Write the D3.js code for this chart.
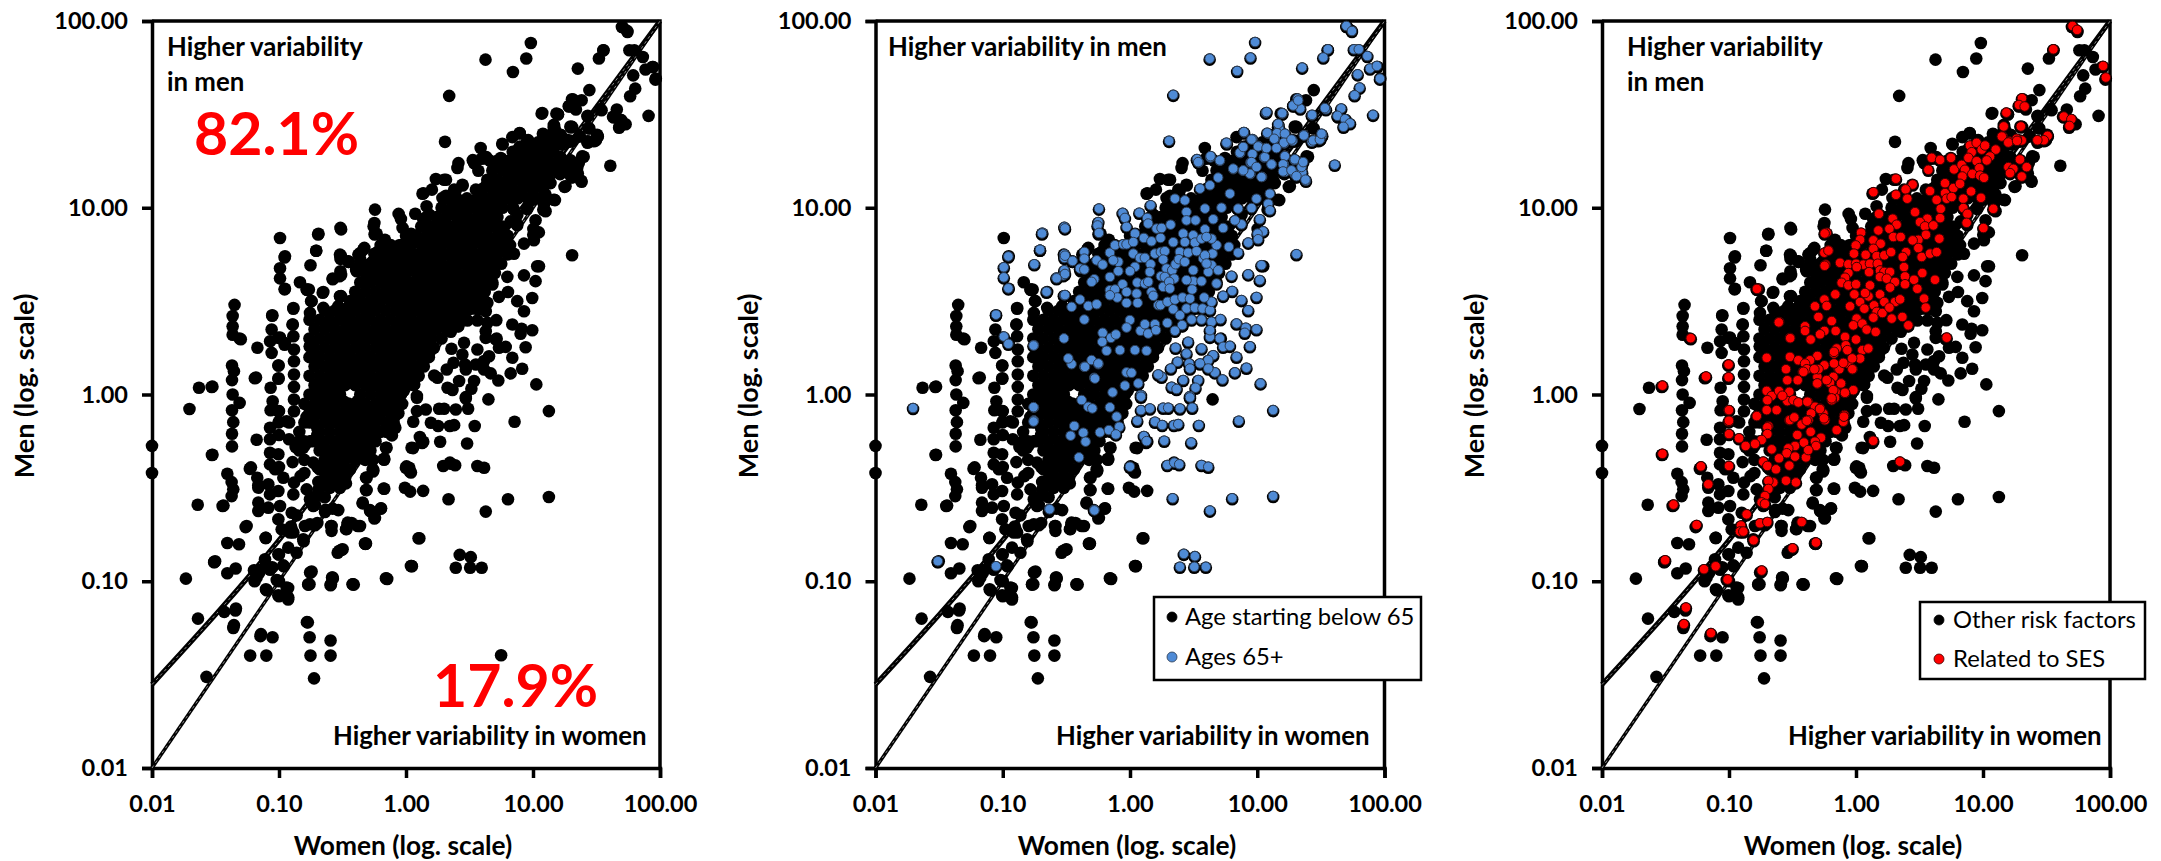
<!DOCTYPE html>
<html>
<head>
<meta charset="utf-8">
<script src="https://cdn.jsdelivr.net/npm/d3@7"></script>
<style>
body { margin: 0; background: #fff; }
text { font-family: Lato, "Open Sans", sans-serif; }
</style>
</head>
<body>
<script>

// isolated black points (the ones that stay black in the middle panel)
const scatterPoints = [
[-2,-.275],[-2,-.42],[-1.35,.48],[-1.365,.42],[-1.365,.365],[-1.365,.32],[-1.31,.3],[-1.17,.25],[-1.37,.155],[-1.355,.125],[-1.37,.077],
[-1.63,.036],[-1.53,.04],[-1.19,.087],[-1.365,0],[-1.31,-.045],[-1.37,-.084],[-1.36,-.148],[-1.37,-.21],[-1.37,-.278],[-1.176,-.242],
[-1.528,-.324],[-1.23,-.398],[-1.407,-.424],[-1.373,-.469],[-1.36,-.508],[-1.373,-.544],[-1.64,-.59],[-1.444,-.597],[-1.263,-.71],
[-1.407,-.795],[-1.315,-.802],[-1.51,-.897],[-1.407,-.957],[-1.341,-.932],[-1.733,-.986],[-1.053,.424],[-1.058,.348],[-1.005,.303],
[-1.07,.285],[-1.058,.223],[-.887,.463],[-.893,.374],[-.887,.312],[-.953,.276],[-.882,.241],[-.882,.178],[-1.005,.155],[-.882,.107],
[-.882,.041],[-.882,-.027],[-.882,-.09],[-1.005,.084],[-1.066,.036],[-1.05,-.036],[-1.066,-.084],[-1.005,-.09],[-1.071,-.178],[-.94,-.143],
[-1.071,-.24],[-1.071,-.312],[-1.071,-.374],[-1.005,-.32],[-1.03,-.4],[-.966,-.446],[-.893,-.362],[-.861,-.259],[-.756,-.25],[-.81,-.285],
[-1.171,-.446],[-1.163,-.499],[-1.084,-.481],[-1.005,-.517],[-1.071,-.535],[-1.163,-.579],[-1.163,-.624],[-1.084,-.606],[-.992,-.597],
[-.882,-.472],[-.83,-.437],[-.887,-.535],[-.782,-.508],[-.756,-.561],[-.73,-.597],[-.9,-.633],[-1.005,-.668],[-.979,-.722],[-.9,-.722],
[-.796,-.704],[-.717,-.7],[-1.105,-.768],[-1.005,-.856],[-1.11,-.882],[-.966,-.915],[-.927,-.82],[-.809,-.775],[-.861,-.847],[-1.071,-.927],
[-1.176,-.98],[-1.018,-.993],[-1.103,-1.043],[-.94,-1.034],[-1.005,-1.075],[-.927,-1.087],[-.751,-.954],[-.769,-1.016],[-.578,-.98],
[-.591,-1.016],[-.42,-1.016],[-.153,-.986],[.044,-.918],[.105,-.77],[-.318,-.799],[-.507,-.832],[-.538,-.847],[-.586,-.704],[-.586,-.73],
[-.46,-.695],[-.468,-.72],[-.362,-.704],[-.578,-.611],[-.533,-.619],[-.638,-.629],[-.341,-.583],[-.284,-.619],[-.244,-.66],[-.197,-.611],
[-.171,-.505],[-.31,-.512],[-.31,-.446],[-.257,-.405],[-.171,-.344],[-.153,-.285],[-1.638,-1.2],[-1.431,-1.164],[-1.343,-1.157],[-1.36,-1.25],
[-1.146,-1.294],[-1.051,-1.3],[-1.227,-1.398],[-1.1,-1.398],[-1.571,-1.512],[-.78,-1.219],[-.759,-1.3],[-.594,-1.317],[-.752,-1.398],
[-.594,-1.398],[-.724,-1.52],[.749,-1.396],[-.77,-1.018],[-.576,-.986],[-.594,-1.021],[-.411,-1.018],[-.148,-.988],[.046,-.92],[-.32,-.8],
[-1,-1],[-.928,-1.036],[-1,-1.08],[-.928,-1.098],[-1.097,-1.048],[-1.192,-1],[-1.156,-.955],[-1.104,-.92],[-1,-.857],[-1.104,-.768],[-1.07,-.938],[-.963,-.92],
[.004,-.385],[.03,-.412],[.127,-.26],[.056,-.287],[-.172,-.349],[-.26,-.412],[.649,-.026],[.044,-.285],[.026,-.392],[.039,-.418],[-.158,-.285],
[-.176,-.347],[-.262,-.4],[-.315,-.445],[-.176,-.504],[-.009,-.499],[.033,-.52],[.135,-.516],[-.315,-.511],[-.341,-.579],[-.249,-.664],
[-.197,-.609],[-.38,-.704],[-.459,-.686],[-.59,-.704],[-.472,-.721],[-.323,-.798],[-.524,-.837],[.099,-.77],[.039,-.918],[-.158,-.984],
[-.419,-1.016],[-.582,-.98],[-.755,-.953],[-.76,-1.016],[-.773,-1.22],[.588,1.32],[.413,1.239],[.405,1.213],[.235,1.154],[.3,1.15],[.13,1.075],
[.204,1.097],[.444,1.123],[.379,1.097],[.287,1.052],[.366,.981],[.274,.933],[.183,.963],[.837,1.378],[.746,1.266],[1.387,1.275],[1.295,1.435],
[1.439,1.426],[1.256,1.115],[1.164,1.043],[1.138,1.132],[1.047,.687],[-.166,.829],[-.328,.785],[-.236,.749],[-.765,.562],[-.747,.5],
[-.953,.74],[-.992,.838],[-.953,.566],[-.835,.601],[-.782,.562],[-.651,.549],[-.743,.5],[-.651,.464],[-.756,.437],[-.887,.459],[-.892,.375],
[-.52,.526],[-.388,.508],[-.533,.473],[-.375,.749],[-.336,.776],[-.388,.66],[-.52,.749],[-.454,.713],[1.444,1.63],[1.383,1.576],[1.308,1.433],
[1.444,1.424],[1.399,1.273],[1.248,1.112],[1.173,1.041],[1.292,1.36],[1.181,1.406],[-.8,-.25],[-.84,-.3],[-.8,-.35],[-.84,-.2],[-.92,-.15],[-.8,-.42]
];

// the solid mass along the diagonal, row by row
const corePoints = [
[-.72,-.55],[-.64,-.55],
[-.68,-.5],[-.6,-.5],[-.52,-.5],
[-.64,-.45],[-.56,-.45],[-.48,-.45],
[-.68,-.4],[-.6,-.4],[-.52,-.4],[-.44,-.4],
[-.64,-.35],[-.56,-.35],[-.48,-.35],[-.4,-.35],[-.32,-.35],[-.26,-.35],
[-.68,-.3],[-.6,-.3],[-.52,-.3],[-.44,-.3],[-.36,-.3],[-.28,-.3],
[-.72,-.25],[-.64,-.25],[-.56,-.25],[-.48,-.25],[-.4,-.25],[-.32,-.25],[-.24,-.25],
[-.68,-.2],[-.6,-.2],[-.52,-.2],[-.44,-.2],[-.36,-.2],[-.28,-.2],[-.2,-.2],[-.15,-.2],
[-.8,-.15],[-.72,-.15],[-.64,-.15],[-.56,-.15],[-.48,-.15],[-.4,-.15],[-.32,-.15],[-.24,-.15],[-.16,-.15],[-.1,-.15],
[-.76,-.1],[-.68,-.1],[-.6,-.1],[-.52,-.1],[-.44,-.1],[-.36,-.1],[-.28,-.1],[-.2,-.1],[-.12,-.1],[-.06,-.1],
[-.8,-.05],[-.72,-.05],[-.64,-.05],[-.56,-.05],[-.48,-.05],[-.4,-.05],[-.32,-.05],[-.24,-.05],[-.16,-.05],[-.08,-.05],[-.03,-.05],
[-.76,0],[-.68,0],[-.6,0],[-.52,0],[-.36,0],[-.28,0],[-.2,0],[-.12,0],[-.04,0],
[-.72,.05],[-.64,.05],[-.56,.05],[-.48,.05],[-.4,.05],[-.32,.05],[-.24,.05],[-.16,.05],[-.08,.05],[0,.05],[.06,.05],
[-.76,.1],[-.68,.1],[-.6,.1],[-.52,.1],[-.44,.1],[-.36,.1],[-.28,.1],[-.2,.1],[-.12,.1],[-.04,.1],[.04,.1],[.1,.1],
[-.72,.15],[-.64,.15],[-.56,.15],[-.48,.15],[-.4,.15],[-.32,.15],[-.24,.15],[-.16,.15],[-.08,.15],[0,.15],[.08,.15],[.14,.15],
[-.76,.2],[-.68,.2],[-.6,.2],[-.52,.2],[-.44,.2],[-.36,.2],[-.28,.2],[-.2,.2],[-.12,.2],[-.04,.2],[.04,.2],[.12,.2],[.18,.2],
[-.72,.25],[-.64,.25],[-.56,.25],[-.48,.25],[-.4,.25],[-.32,.25],[-.24,.25],[-.16,.25],[-.08,.25],[0,.25],[.08,.25],[.16,.25],[.22,.25],
[-.76,.3],[-.68,.3],[-.6,.3],[-.52,.3],[-.44,.3],[-.36,.3],[-.28,.3],[-.2,.3],[-.12,.3],[-.04,.3],[.04,.3],[.12,.3],[.2,.3],[.28,.3],
[-.72,.35],[-.64,.35],[-.56,.35],[-.48,.35],[-.4,.35],[-.32,.35],[-.24,.35],[-.16,.35],[-.08,.35],[0,.35],[.08,.35],[.16,.35],[.24,.35],[.32,.35],
[-.76,.4],[-.68,.4],[-.6,.4],[-.52,.4],[-.44,.4],[-.36,.4],[-.28,.4],[-.2,.4],[-.12,.4],[-.04,.4],[.04,.4],[.12,.4],[.2,.4],[.28,.4],[.36,.4],[.44,.4],
[-.64,.45],[-.56,.45],[-.48,.45],[-.4,.45],[-.32,.45],[-.24,.45],[-.16,.45],[-.08,.45],[0,.45],[.08,.45],[.16,.45],[.24,.45],[.32,.45],[.4,.45],[.48,.45],
[-.44,.5],[-.36,.5],[-.28,.5],[-.2,.5],[-.12,.5],[-.04,.5],[.04,.5],[.12,.5],[.2,.5],[.28,.5],[.36,.5],[.44,.5],[.52,.5],[.58,.5],
[-.4,.55],[-.32,.55],[-.24,.55],[-.16,.55],[-.08,.55],[0,.55],[.08,.55],[.16,.55],[.24,.55],[.32,.55],[.4,.55],[.48,.55],[.56,.55],[.62,.55],
[-.36,.6],[-.28,.6],[-.2,.6],[-.12,.6],[-.04,.6],[.04,.6],[.12,.6],[.2,.6],[.28,.6],[.36,.6],[.44,.6],[.52,.6],[.6,.6],[.68,.6],
[-.32,.65],[-.24,.65],[-.16,.65],[-.08,.65],[0,.65],[.08,.65],[.16,.65],[.24,.65],[.32,.65],[.4,.65],[.48,.65],[.56,.65],[.64,.65],[.7,.65],
[-.36,.7],[-.28,.7],[-.2,.7],[-.12,.7],[-.04,.7],[.04,.7],[.12,.7],[.2,.7],[.28,.7],[.36,.7],[.44,.7],[.52,.7],[.6,.7],[.68,.7],[.75,.7],
[-.24,.75],[-.16,.75],[-.08,.75],[0,.75],[.08,.75],[.16,.75],[.24,.75],[.32,.75],[.4,.75],[.48,.75],[.56,.75],[.64,.75],[.72,.75],[.8,.75],
[-.2,.8],[-.12,.8],[-.04,.8],[.04,.8],[.12,.8],[.2,.8],[.28,.8],[.36,.8],[.44,.8],[.52,.8],[.6,.8],[.68,.8],[.76,.8],[.82,.8],
[0,.85],[.08,.85],[.16,.85],[.24,.85],[.32,.85],[.4,.85],[.48,.85],[.56,.85],[.64,.85],[.72,.85],[.8,.85],
[.12,.9],[.2,.9],[.28,.9],[.36,.9],[.44,.9],[.52,.9],[.6,.9],[.68,.9],[.76,.9],
[.16,.95],[.24,.95],[.32,.95],[.4,.95],[.48,.95],[.56,.95],[.64,.95],[.72,.95],
[.28,1],[.36,1],[.44,1],[.52,1],[.6,1],[.68,1],[.76,1],[.84,1],
[.32,1.05],[.4,1.05],[.48,1.05],[.56,1.05],[.64,1.05],[.72,1.05],[.8,1.05],[.88,1.05],[.96,1.05],[1.04,1.05],
[.6,1.1],[.68,1.1],[.76,1.1],[.84,1.1],[.92,1.1],[1,1.1],[1.08,1.1],
[.64,1.15],[.72,1.15],[.8,1.15],[.88,1.15],[.96,1.15],[1.04,1.15],[1.12,1.15],
[.68,1.2],[.76,1.2],[.84,1.2],[.92,1.2],[1,1.2],[1.08,1.2],[1.16,1.2],
[.72,1.25],[.8,1.25],[.88,1.25],[.96,1.25],[1.04,1.25],[1.12,1.25],[1.2,1.25],
[.84,1.3],[.92,1.3],[1,1.3],[1.08,1.3],[1.16,1.3],
[.96,1.35],[1.04,1.35],[1.12,1.35]
];

// blue points, ages 65+
const agedPoints = [
[1.7,1.968],[1.744,1.941],[.983,1.882],[.626,1.793],[.947,1.799],[.842,1.727],[1.555,1.843],[1.519,1.799],[1.353,1.745],[1.759,1.843],[1.798,1.843],
[1.865,1.807],[1.886,1.74],[1.94,1.754],[1.964,1.686],[1.789,1.709],[1.805,1.638],[1.765,1.597],[1.54,1.522],[1.429,1.49],[1.317,1.579],[1.287,1.544],[1.338,1.526],
[.34,1.599],[1.068,1.504],[1.197,1.499],[1.66,1.526],[1.63,1.487],[1.69,1.469],[1.729,1.447],[1.678,1.428],[1.91,1.492],[1.167,1.437],[1.173,1.415],[.307,1.353],
[.896,1.398],[1.083,1.392],[1.158,1.394],[1.218,1.389],[1.137,1.365],[1.212,1.339],[1.278,1.353],[1.368,1.383],[1.51,1.383],[1.495,1.362],[1.429,1.348],
[1.609,1.225],[.761,1.339],[.962,1.362],[1.008,1.326],[.866,1.287],[.962,1.282],[1.068,1.314],[1.053,1.264],[.947,1.237],[1.113,1.228],[1.209,1.228],[1.293,1.25],
[1.353,1.237],[1.218,1.187],[1.293,1.175],[1.383,1.139],[1.353,1.184],[.812,1.201],[.887,1.193],[.947,1.175],[1.038,1.16],[.632,1.264],[.707,1.246],[.541,1.237],[.526,1.255],
[-.244,.99],[-.249,.918],[-.255,.9],[-.244,.86],[-.058,.967],[-.04,.94],[-.027,.892],[.073,.968],[.135,.94],[.162,1.008],[.143,.91],[.209,.883],[.248,.886],[.319,.904],
[-.689,.861],[-.516,.892],[-.707,.77],[-.752,.692],[-.516,.746],[-.516,.726],[-.454,.71],[-.516,.66],[-.524,.633],[-.577,.621],[-.359,.758],[-.359,.722],[-.393,.669],
[-.359,.664],[-.281,.612],[-.302,.598],[-.262,.713],[-.215,.69],[-.158,.754],[-.118,.794],[-.053,.799],[-.027,.799],[-.092,.705],[-.132,.713],[-.092,.655],[-.158,.624],
[.039,.856],[.026,.811],[.109,.833],[.169,.815],[.24,.833],[.026,.749],[.078,.726],[.117,.726],[.196,.749],[.243,.758],[.274,.762],[.261,.717],[.039,.678],[0,.655],
[.162,.692],[.156,.651],[.287,.669],[.332,.66],[.358,.692],[.243,.628],[.274,.624],[.348,.615],[-.058,.585],[.057,.594],[.117,.589],[.143,.598],[-.158,.553],[-.118,.557],
[-.027,.544],[.052,.535],[-.1,.514],[-.158,.526],[.169,.544],[.261,.571],[.308,.598],[.313,.562],[.183,.523],[-.027,.485],[.06,.485],[.222,.473],[.24,.473],[.295,.491],
[.353,.503],[.413,.514],[.34,.451],[.444,.455],[.51,.459],[-.516,.526],[-.393,.503],[-.459,.464],[-.328,.469],[-.262,.478],[-.359,.396],[-.001,.393],[-.027,.353],[.083,.336],
[.117,.371],[.196,.371],[.143,.321],[.204,.339],[.293,.378],[.392,.419],[.41,.366],[.353,.336],[.484,.396],[.562,.396],[.641,.384],[.57,.455],[.628,.446],[.641,.491],
[.583,.514],[.471,.508],[.497,.601],[.562,.601],[.444,.607],[.489,.557],[-.519,.295],[-.755,.259],[-.215,.325],[-.15,.298],[-.111,.316],[-.218,.277],[-.184,.229],[-.079,.232],
[.039,.232],[.13,.229],[-.459,.157],[-.485,.188],[-.359,.143],[-.302,.179],[-.249,.157],[-.281,.084],[-.027,.113],[.012,.111],[.065,.054],[-.04,.042],[-.137,.006],[.086,-.008],
[.248,.09],[.222,.102],[.321,.134],[.374,.17],[.444,.214],[.457,.277],[.358,.245],[.562,.241],[.628,.303],[.706,.295],[.732,.25],[.785,.255],[.942,.253],[.628,.339],[.837,.375],
[.91,.352],[.994,.344],[.902,.325],[.711,.398],[.654,.205],[.615,.179],[.837,.197],[.915,.138],[.824,.113],[.727,.075],[.667,.113],[.615,.134],[.55,.161],[.465,.161],[.471,.134],
[.418,.072],[.536,.072],[.515,.031],[.327,.036],[.366,.024],[.471,-.014],[1.026,.054],[.929,.638],[1.02,.607],[1.033,.687],[.994,.517],[.876,.5],[.929,.446],[.803,.549],[.732,.523],
[.798,.63],[1.308,.746],[.641,.687],[.693,.66],[.615,.651],[.68,.589],[.575,.722],[.649,.749],[.85,.754],[.929,.808],[.777,.785],[.68,.794],[.641,.829],[.589,.879],[.732,.886],
[.876,.906],[.824,.927],[.654,.933],[.589,.99],[.719,.995],[.85,.99],[.955,.993],[.785,1.07],[.628,1.115],[.55,1.097],[.693,1.156],[.353,1.043],[.431,1.034],[.444,.972],[.444,.927],
[.515,.927],[.994,1.043],[1.099,1.07],[1.086,1.016],[1.099,.981],[1.02,.933],[1.046,.868],[1.002,.856],[1.007,.826],[.942,1.177],[1.033,1.159],[.89,1.195],[.811,1.204],[.955,1.239],
[.994,1.213],[1.112,1.227],[1.06,1.266],[.863,1.289],[.633,1.271],[.536,1.239],[.706,1.248],[.758,1.343],[.895,1.4],[.955,1.36],[.89,1.32],[1.007,1.323],[1.073,1.314],[1.078,1.396],
[1.156,1.394],[1.217,1.391],[1.133,1.364],[1.209,1.343],[1.151,1.314],[1.269,1.36],[1.366,1.382],[1.439,1.355],[1.492,1.36],[1.505,1.391],[1.217,1.271],[1.295,1.254],[1.348,1.213],
[1.203,1.227],[1.203,1.189],[1.269,1.195],[1.308,1.164],[1.379,1.145],[1.361,1.239],[1.073,1.507],[1.196,1.501],[1.164,1.444],[1.431,1.492],[1.531,1.528],[1.282,1.542],[1.322,1.569],
[.34,.81],[.418,.856],[.497,.847],[.431,.811],[.51,.808],[.562,.829],[.601,.838],[.392,.758],[.457,.754],[.523,.762],[.589,.74],[.384,.719],[.431,.705],[.497,.66],[.601,.696],
[-.755,-.076],[-.755,-.144],[-.438,-.174],[-.467,-.226],[-.367,-.21],[-.349,-.258],[-.401,-.342],[-.236,-.208],[-.634,-.618],[-.281,-.623],[-.38,-.035],[-.328,-.071],[-.296,-.08],
[-.158,-.074],[-.105,-.124],[-.084,-.178],[-.166,-.196],[-.111,-.219],[.086,-.017],[.086,-.089],[.156,-.08],[.057,-.146],[.196,-.151],[.253,-.169],[.109,-.228],[.13,-.255],[.269,-.253],
[.261,-.076],[.3,-.076],[.392,-.08],[.489,-.076],[.471,-.021],[.345,-.169],[.379,-.164],[.541,-.169],[.855,-.146],[1.125,-.089],[.481,-.262],[-.001,-.392],[.293,-.383],[.348,-.37],
[.387,-.379],[.562,-.383],[.615,-.392],[.335,-.561],[.803,-.561],[1.125,-.549],[.628,-.627],[.423,-.859],[.51,-.871],[.392,-.928],[.505,-.928],[.596,-.928],[-.249,.161],[-.276,.08],[-.354,.143],
[-1.705,-.078],[-1.053,.422],[-.992,.305],[-.956,.266],[-.758,.257],[-.758,-.073],[-.758,-.15],[-.956,.734],[-.992,.676],[-.992,.622],[-.956,.563],[-.656,.545],[-.692,.857],[-.707,.77],
[-.511,.884],[-.511,.738],[-.511,.64],[-.577,.617],[-.511,.527],[-.451,.71],[-1.51,-.898],[-1.053,-.925],[-.632,-.62],[-.28,-.626]
];

// red points, risk factors related to SES
const sesPoints = [
[.596,1.262],[.662,1.251],[.748,1.262],[.57,1.198],[.898,1.328],[.95,1.342],[.99,1.306],[.911,1.292],[1.016,1.328],[1.1,1.306],[1.055,1.269],[.885,1.262],[.95,1.244],[1.029,1.248],[.971,1.207],
[.772,1.2],[.832,1.224],[.858,1.198],[.916,1.176],[.977,1.167],[1.008,1.155],[.837,1.162],[.701,1.126],[.767,1.1],[.819,1.123],[.906,1.082],[.984,1.048],[1.081,.989],[.701,1.073],[.583,1.084],
[.635,1.037],[.714,1.043],[.753,1.052],[.667,.989],[.845,1.043],[.845,.993],[.877,.962],[.871,.914],[1.003,.886],[.662,.939],[.562,.936],[.504,.918],[.543,.895],[.609,.9],[.551,.85],[.491,.823],
[.446,.82],[.656,.829],[.465,.971],[.315,1.15],[.446,1.119],[.391,1.093],[.315,1.064],[.404,1.043],[.137,1.078],[.181,.962],[.289,.936],[.32,.904],[.263,.882],[.176,.873],[.294,.838],[.352,.838],
[.04,.861],[.032,.823],[.137,.82],[.194,.802],[.137,.775],[-.002,.793],[-.231,.861],[-.218,.766],[-.249,.754],[-.016,.749],[.076,.743],[.163,.736],[.223,.74],[.276,.757],[.394,.757],[.368,.731],
[.517,.731],[.491,.779],[.583,.749],[.635,.757],[-.239,.69],[-.126,.7],[-.06,.692],[0,.695],[.058,.69],[.11,.695],[.171,.695],[.378,.677],[.103,.65],[.006,.677],[-.06,.645],[-.086,.62],[-.113,.593],
[-.06,.579],[0,.585],[.11,.579],[.189,.659],[.223,.651],[.268,.651],[.189,.624],[.242,.615],[.307,.597],[.386,.627],[.457,.609],[.522,.645],[.622,.609],[.483,.561],[.268,.567],[.386,.585],[-.013,.531],
[.032,.49],[.098,.52],[.071,.538],[.189,.531],[.223,.49],[.307,.49],[.347,.504],[.536,.508],[.549,.46],[.142,.472],[-.047,.467],[.066,.454],[.163,.437],[.208,.431],[.263,.46],[.137,.406],[.005,.401],
[-.021,.365],[.05,.374],[.084,.342],[.155,.33],[.281,.401],[.365,.41],[.412,.365],[.714,.299],[-.163,.531],[-.249,.503],[-.231,.469],[-.323,.467],[-.296,.41],[-.191,.388],[-.604,.383],[-.774,.561],
[-.401,.36],[-.401,.335],[-.249,.335],[-.283,.317],[-.16,.335],[-.086,.303],[0,.289],[-.52,.298],[-.357,.289],[-.081,.258],[-.068,.232],[.05,.232],[.097,.241],[-.152,.241],[-.173,.214],[.032,.187],
[-.304,.201],[-.52,.196],[-.703,.191],[-.454,.178],[-.362,.178],[-.401,.16],[-.249,.151],[-.139,.134],[-.026,.13],[-.06,.16],[-.551,.13],[-.42,.116],[-.541,.071],[-.459,.071],[-.304,.089],[-.304,.053],
[-.178,.089],[-.205,.059],[-.118,.053],[-.021,.018],[-.086,.003],[-.16,.009],[-.165,-.023],[-.191,-.036],[-.703,.014],[-.664,-.013],[-.585,-.006],[-.525,.009],[-.541,-.041],[-.493,-.036],[-.454,-.048],
[-.375,-.048],[-.698,-.036],[-.703,-.089],[-.625,-.089],[-.782,-.12],[-.323,-.071],[-.283,-.08],[-.354,-.107],[-.257,-.107],[-.244,-.143],[-.375,-.143],[-.428,-.166],[-.525,-.143],[-.69,-.175],[-.1,-.152],
[-.092,-.116],[1.291,1.253],[1.2,1.212],[1.239,1.203],[1.305,1.162],[1.213,1.18],[1.344,1.212],[1.305,1.355],[1.208,1.349],[1.155,1.378],[1.265,1.364],[1.705,1.968],[1.741,1.947],[1.554,1.843],
[1.946,1.754],[1.967,1.692],[1.307,1.581],[1.283,1.545],[1.328,1.537],[1.184,1.504],[1.636,1.483],[1.696,1.469],[1.681,1.433],[1.163,1.43],[1.298,1.43],[1.148,1.376],[1.199,1.344],[1.268,1.353],[1.509,1.38],
[1.479,1.356],[1.428,1.356],[-1.524,.042],[-1.301,.296],[-1.181,.091],[-1.003,.155],[-1.003,.087],[-1.003,-.09],[-1.003,-.15],[-.78,.56],[-.608,.381],[-.247,.857],[-.217,.765],[-.247,.684],[-.518,.296],
[-.388,.13],[-.295,.13],[-.414,.116],[-.328,.13],[-.305,.054],[-.205,.057],[-.231,.072],[-.173,.223],[-.131,.13],[-.029,.13],[-.173,.161],[-.1,.164],[-.03,.188],[-.118,.054],[-.179,.018],[-.087,.004],
[-.192,-.026],[-.606,.013],[-.58,-.012],[-.383,-.044],[-.284,-.083],[-.252,-.133],[-.388,-.146],[-.52,-.142],[-.486,-.128],[-.781,-.121],[-.698,-.181],[-.698,-.217],[-.743,-.249],[-.795,-.27],[-.869,-.281],
[-.921,-.24],[-1,-.217],[-1,-.146],[-1,-.089],[-.462,-.222],[-.357,-.205],[-.41,-.263],[-.276,-.237],[-.323,-.258],[-.315,-.281],[-.1,-.151],[-.095,-.124],[-.152,-.196],[.136,-.253],[-.48,-.281],[-.533,-.294],
[-.546,-.32],[-.48,-.338],[-.394,-.342],[-.376,-.303],[-.606,-.347],[-.664,-.299],[-.73,-.365],[-.698,-.388],[-.63,-.406],[-.525,-.386],[-.551,-.467],[-.473,-.476],[-.651,-.476],[-.69,-.468],[-.69,-.511],
[-.717,-.549],[-.743,-.583],[-.717,-.591],[-1,-.388],[-1.221,-.39],[-1.163,-.486],[-.861,-.647],[-.756,-.695],[-.698,-.688],[-.906,-.707],[-.914,-.739],[-.887,-.739],[-.806,-.786],[-.428,-.688],[-.315,-.798],
[-.499,-.829],[.346,-.365],[-.743,-.948],[-1.011,-.996],[-1.197,-.941],[-1.105,-.925],[-1.255,-.704],[-1.339,-1.146],[-1.355,-1.235],[-1.142,-1.283],[-1.524,-.323],[-1.437,-.595],[-1.503,-.893]
];

// reference lines: equality and the upper bound
const equalWomen = [0.01, 100];
const equalMen = [0.01, 100];
const upperWomen = [0.01, 0.1, 1, 10, 100];
const upperMen = [0.028, 0.166, 1.35, 12, 100];

const axisTicks = [0.01, 0.1, 1, 10, 100];

const plotTop = 21, plotBottom = 768;

const panels = [
  {left: 152, right: 660, overlay: null, color: null, menLines: ["Higher variability", "in men"], menX: 167, womenX: 333, legend: null},
  {left: 875.5, right: 1384.5, overlay: agedPoints, color: "#4f8bd6", stroke: "#2a3a50", menLines: ["Higher variability in men"], menX: 888, womenX: 1056,
   legend: {x: 1154, y: 597, w: 267, h: 83, markX: 1172, textX: 1185, y1: 617, y2: 657, labels: ["Age starting below 65", "Ages 65+"]}},
  {left: 1602, right: 2110, overlay: sesPoints, color: "#ff0000", stroke: "#3a0000", menLines: ["Higher variability", "in men"], menX: 1627, womenX: 1788,
   legend: {x: 1920, y: 602, w: 225, h: 77, markX: 1939, textX: 1953, y1: 620, y2: 659, labels: ["Other risk factors", "Related to SES"]}}
];

const svg = d3.select("body").append("svg")
    .attr("width", 2161)
    .attr("height", 861);

const allBlack = scatterPoints.concat(corePoints, agedPoints, sesPoints);

panels.forEach((p, i) => {
    const x = d3.scaleLog().domain([0.01, 100]).range([p.left, p.right]);
    const y = d3.scaleLog().domain([0.01, 100]).range([plotBottom, plotTop]);
    const g = svg.append("g");

    // frame
    g.append("path")
        .attr("d", `M${x(0.01)},${y(100)}H${x(100)}V${y(0.01)}`)
        .attr("fill", "none")
        .attr("stroke", "#000")
        .attr("stroke-width", 3.5);

    const fmt = d3.format(".2f");
    const xAxis = g.append("g")
        .attr("transform", `translate(0,${y(0.01)})`)
        .call(d3.axisBottom(x).tickValues(axisTicks).tickFormat(fmt).tickSize(10).tickPadding(17));
    const yAxis = g.append("g")
        .attr("transform", `translate(${x(0.01)},0)`)
        .call(d3.axisLeft(y).tickValues(axisTicks).tickFormat(fmt).tickSize(10).tickPadding(14));
    [xAxis, yAxis].forEach(a => {
        a.selectAll("path, line").attr("stroke", "#000").attr("stroke-width", 3.5);
        a.selectAll("text").attr("fill", "#000")
            .style("font-family", "Lato, sans-serif")
            .style("font-size", "23.5px")
            .style("font-weight", "700");
    });

    g.append("text")
        .attr("x", (p.left + p.right) / 2 - 3)
        .attr("y", 855)
        .attr("text-anchor", "middle")
        .style("font-size", "26.3px")
        .style("font-weight", "700")
        .text("Women (log. scale)");

    g.append("text")
        .attr("transform", `translate(${p.left - 118},386) rotate(-90)`)
        .attr("text-anchor", "middle")
        .style("font-size", "27px")
        .style("font-weight", "700")
        .text("Men (log. scale)");

    // bound lines, black with a broken grey middle
    const line = d3.line().x(d => x(d[0])).y(d => y(d[1])).curve(d3.curveMonotoneX);
    const upper = d3.zip(upperWomen, upperMen);
    const equal = d3.zip(equalWomen, equalMen);
    [[upper, 5], [equal, 3.5]].forEach(([pts, w]) => {
        g.append("path").attr("d", line(pts)).attr("fill", "none").attr("stroke", "#000").attr("stroke-width", w);
        g.append("path").attr("d", line(pts)).attr("fill", "none").attr("stroke", "#888").attr("stroke-width", 1).attr("stroke-dasharray", "3,3");
    });

    g.append("g").selectAll("circle")
        .data(allBlack)
        .join("circle")
        .attr("cx", d => x(10 ** d[0]))
        .attr("cy", d => y(10 ** d[1]))
        .attr("r", 6.3)
        .attr("fill", "#000");

    if (p.overlay) {
        g.append("g").attr("transform", "translate(0,-1)").selectAll("circle")
            .data(p.overlay)
            .join("circle")
            .attr("cx", d => x(10 ** d[0]))
            .attr("cy", d => y(10 ** d[1]))
            .attr("r", 4.8)
            .attr("fill", p.color)
            .attr("stroke", p.stroke)
            .attr("stroke-width", 1);
    }

    // notes
    p.menLines.forEach((t, k) => {
        g.append("text")
            .attr("x", p.menX)
            .attr("y", 56 + k * 35)
            .style("font-size", "25.8px")
            .style("font-weight", "700")
            .text(t);
    });
    g.append("text")
        .attr("x", p.womenX)
        .attr("y", 745)
        .style("font-size", "25.8px")
        .style("font-weight", "700")
        .text("Higher variability in women");

    if (i === 0) {
        g.append("text").attr("x", 194).attr("y", 155)
            .attr("fill", "#ff0000").style("font-size", "59px").style("font-weight", "700").text("82.1%");
        g.append("text").attr("x", 433).attr("y", 707)
            .attr("fill", "#ff0000").style("font-size", "59px").style("font-weight", "700").text("17.9%");
    }

    if (p.legend) {
        const l = p.legend;
        g.append("rect")
            .attr("x", l.x).attr("y", l.y).attr("width", l.w).attr("height", l.h)
            .attr("fill", "#fff").attr("stroke", "#000").attr("stroke-width", 2.5);
        [l.y1, l.y2].forEach((ly, k) => {
            g.append("circle")
                .attr("cx", l.markX).attr("cy", ly).attr("r", 5)
                .attr("fill", k === 0 ? "#000" : p.color)
                .attr("stroke", k === 0 ? "#000" : p.stroke)
                .attr("stroke-width", 0.8);
            g.append("text")
                .attr("x", l.textX).attr("y", ly + 8)
                .style("font-size", "23.8px")
                .text(l.labels[k]);
        });
    }
});
</script>
</body>
</html>
